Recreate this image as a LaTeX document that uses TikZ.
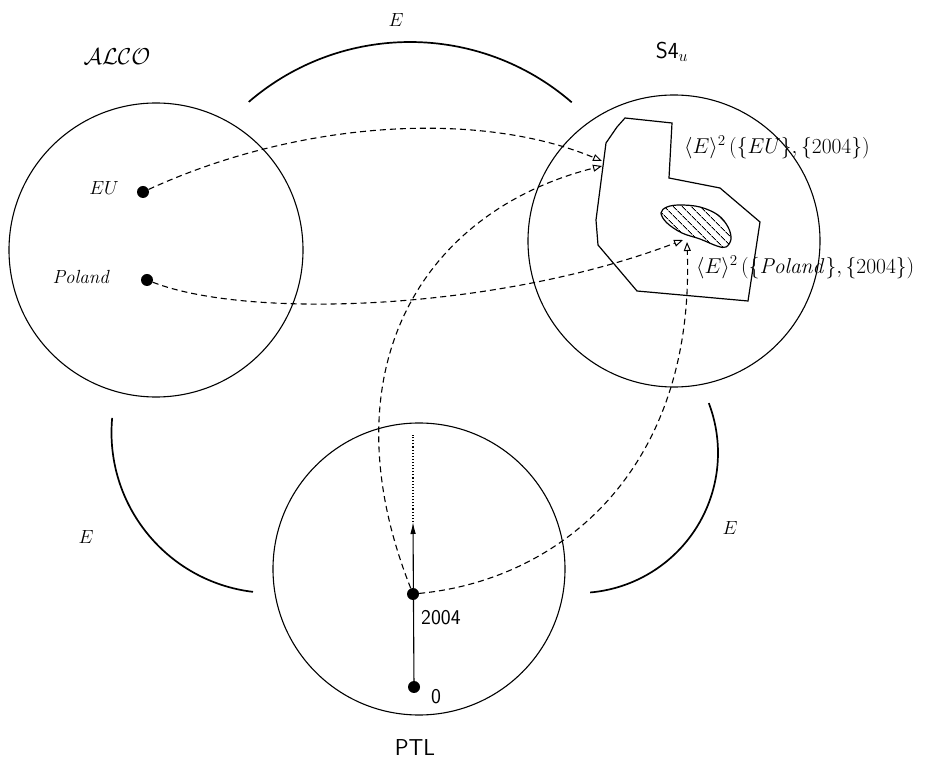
\RequirePackage{fix-cm}
\documentclass[tikz,border=0pt]{standalone}
\usetikzlibrary{arrows.meta,patterns.meta}
\begin{document}
\begin{tikzpicture}[x=1pt,y=1pt,
  world/.style={circle,draw,line width=1.1pt,minimum size=292pt,inner sep=0pt},
  dot/.style={circle,fill=black,minimum size=12pt,inner sep=0pt},
  link/.style={dash pattern=on 6pt off 4pt,line width=1.1pt,-{Triangle[open,length=9pt,width=7pt,line width=1pt]}},
  eline/.style={line width=1.7pt},
  lab/.style={inner sep=0pt,font=\fontsize{19}{22}\selectfont},
  formula/.style={inner sep=0pt,anchor=west,font=\fontsize{21.5}{24}\selectfont},
  num/.style={inner sep=0pt,anchor=west,font=\fontsize{21}{24}\selectfont\sffamily},
  big/.style={inner sep=0pt,font=\fontsize{23}{26}\selectfont}]
\useasboundingbox (0,0) rectangle (930,772);

% worlds
\node[world,minimum size=294pt] (alco) at (156,522) {};
\node[world] (s4u) at (674,531) {};
\node[world] (ptl) at (419,203) {};

\node[big] (alcolab) at (117,715) {$\mathcal{ALCO}$};
\node[big] (s4lab) at (672,720) {\sffamily S4$_u$};
\node[big] (ptllab) at (415,24) {\sffamily PTL};

% E arcs
\draw[eline] (410,483) ++(130.75:247) arc[start angle=130.75,end angle=49.1,radius=247];
\draw[eline] (272,339.5) ++(174.8:160.5) arc[start angle=174.8,end angle=263.2,radius=160.5];
\draw[eline] (578,319) ++(20.9:140) arc[start angle=20.9,end angle=-85,radius=140];
\node[lab] (etop) at (396,752) {$E$};
\node[lab] (eleft) at (86,235) {$E$};
\node[lab] (eright) at (730,244) {$E$};

% ALCO individuals
\node[dot] (eu) at (143,580) {};
\node[dot] (poland) at (147,492) {};
\node[lab,anchor=east] (eulab) at (119,584) {$EU$};
\node[lab,anchor=east] (pollab) at (109,495) {\itshape Poland};

% S4u regions
\draw[line width=1.2pt] (625,654) -- (672,649) -- (669,594) -- (720,584) -- (760,550)
  -- (748,471) -- (637,481) -- (598,527) -- (596,552) -- (606,629) -- (617,645) -- cycle;
\draw[line width=1.2pt,pattern={Lines[angle=-45,distance=6.5pt,line width=1pt]}]
  plot[smooth cycle,tension=0.6] coordinates {(661,559) (667,565) (680,567) (700,565) (718,557)
  (728,545) (731,533) (726,525) (717,526) (700,533) (682,539) (667,549)};
\node[formula] (f1) at (684,625) {$\langle E\rangle^2\,(\{EU\},\{2004\})$};
\node[formula] (f2) at (696,505) {$\langle E\rangle^2\,(\{\mathit{Poland}\},\{2004\})$};

\coordinate (euend) at (602,611);
\coordinate (tpend) at (602,606);
\coordinate (polend) at (683,532);
\coordinate (tbend) at (687,530);

% PTL timeline
\node[dot] (t0) at (414,85) {};
\node[dot] (t2004) at (413,178) {};
\coordinate (ttip) at (413,250);
\coordinate (tdots) at (413,337);
\node[num] (l2004) at (421,154) {2004};
\node[num] (l0) at (431,75) {0};
\draw[line width=1.1pt,-{Latex[length=12pt,width=5.5pt]}] (t0) -- (ttip);
\draw[line width=1.1pt,dotted] (ttip) -- (tdots);

% mappings
\draw[link] (eu) .. controls (300,652) and (480,662) .. (euend);
\draw[link] (poland) .. controls (250,452) and (500,462) .. (polend);
\draw[link] (t2004) .. controls (325,400) and (420,560) .. (tpend);
\draw[link] (t2004) .. controls (560,192) and (695,302) .. (tbend);
\end{tikzpicture}
\end{document}
